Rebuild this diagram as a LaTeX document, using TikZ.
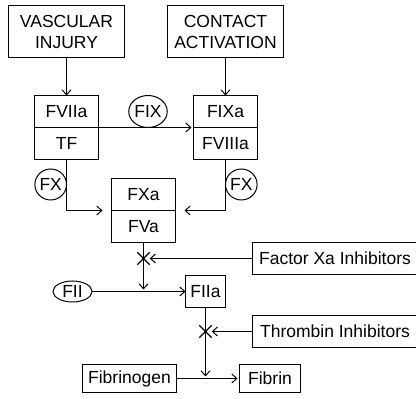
\documentclass[tikz,border=0pt]{standalone}
\usepackage{fontspec}
\setmainfont{Liberation Sans}
\usetikzlibrary{shapes,arrows.meta,positioning,calc}

\begin{document}
\begin{tikzpicture}[
    x=1pt, y=1pt,
    node distance=38pt and 43pt,
    every node/.style={font=\fontsize{17.5}{21}\selectfont},
    block/.style={rectangle, draw, line width=1.1pt, inner sep=0pt,
                  outer sep=0pt, align=center},
    cascade/.style={block, minimum width=64pt, minimum height=32pt},
    source/.style={block, minimum width=116pt, minimum height=52pt},
    factor/.style={ellipse, draw, line width=1pt, inner sep=0pt,
                   outer sep=0pt, minimum width=31pt, minimum height=31pt},
    inhibit/.style={cross out, draw, line width=1.4pt, minimum size=11pt,
                    inner sep=0pt},
    arrow/.style={-{Straight Barb[length=5pt,width=9pt]}, line width=1pt},
]
\useasboundingbox (0,0) rectangle (416,399);
\node[source] (vasc) at (66.5,367.5) {VASCULAR\\INJURY};
\node[source, right=of vasc] (contact) {CONTACT\\ACTIVATION};
\node[cascade, below=of vasc] (fviia) {FVIIa};
\node[cascade, below=0pt of fviia] (tf) {TF};
\node[cascade, below=of contact] (fixa) {FIXa};
\node[cascade, below=0pt of fixa] (fviiia) {FVIIIa};
\node[cascade] (fxa) at (143.5,204.5) {FXa};
\node[cascade, below=0pt of fxa] (fva) {FVa};
\draw[arrow] (vasc) -- (fviia);
\draw[arrow] (contact) -- (fixa);
\draw[arrow, shorten >=2pt] (tf.north east) -- (fviiia.north west);
\node[factor, anchor=south, xshift=2pt, minimum width=36pt, minimum height=32pt]
    (fix) at ($(tf.north east)!0.5!(fviiia.north west)$) {FIX};
\draw[arrow, shorten >=9pt] (tf.south) |- (fva.north west);
\draw[arrow, shorten >=9pt] (fviiia.south) |- (fva.north east);
\node[factor, anchor=east] (fxl) at ([yshift=-25pt]tf.south) {FX};
\node[factor, anchor=west] (fxr) at ([yshift=-25pt]fviiia.south) {FX};

\node[block, anchor=west, minimum width=165pt, minimum height=32pt]
    (fxai) at (252.5,140.5) {Factor Xa Inhibitors};
\node[inhibit] (xa) at (fva |- fxai) {};
\node[factor, minimum width=39pt, minimum height=21pt] (fii) at (72.5,107.5) {FII};
\node[block, minimum width=40pt, minimum height=32pt] (fiia) at (205.5,107.5) {FIIa};
\coordinate (ja) at (fva |- fii);
\draw[arrow, shorten >=2pt] (fva) -- (ja);
\draw[arrow] (fxai) -- (xa);
\draw[arrow] (fii) -- (fiia);

\node[block, anchor=west, minimum width=165pt, minimum height=32pt]
    (thri) at (252.5,67.5) {Thrombin Inhibitors};
\node[inhibit] (xb) at (fiia |- thri) {};
\node[block, minimum width=94pt, minimum height=28pt] (fibrinogen) at (129.5,20.5) {Fibrinogen};
\node[block, right=63pt of fibrinogen, minimum width=61pt, minimum height=28pt] (fibrin) {Fibrin};
\coordinate (jb) at (fiia |- fibrin);
\draw[arrow, shorten >=2pt] (fiia) -- (jb);
\draw[arrow] (thri) -- (xb);
\draw[arrow, shorten >=2pt] (fibrinogen) -- (fibrin);
\end{tikzpicture}
\end{document}
